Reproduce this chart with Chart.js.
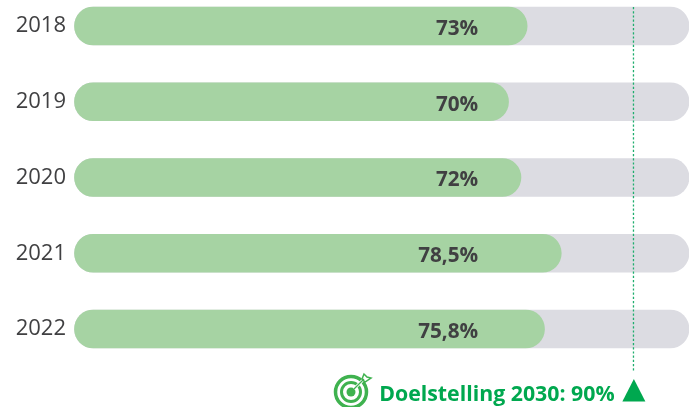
<!DOCTYPE html>
<html><head><meta charset="utf-8">
<style>html,body{margin:0;padding:0;background:#fff;overflow:hidden}canvas{display:block}</style>
<script src="https://cdn.jsdelivr.net/npm/chart.js@4"></script>
</head><body><canvas id="c" width="689" height="407"></canvas>
<script>
const years = ['2018','2019','2020','2021','2022'];
const values = [73,70,72,78.5,75.8];
const valueLabels = ['73%','70%','72%','78,5%','75,8%'];
const track = [99.1,99.1,99.1,99.1,99.1];
const goal = 90;
const goalLabel = 'Doelstelling 2030: 90%';
const labelAnchor = 65.1;
const GREEN='#00a84f', DARK='#404042';

const overlay = {
  id:'overlay',
  afterDatasetsDraw(chart){
    const {ctx,scales:{x,y}} = chart;
    ctx.save();
    // value labels
    ctx.font='bold 20.7px "Open Sans"';
    ctx.fillStyle=DARK; ctx.textAlign='right'; ctx.textBaseline='middle';
    valueLabels.forEach((t,i)=>ctx.fillText(t,x.getPixelForValue(labelAnchor),y.getPixelForValue(i)+3));
    // goal line
    const gx=x.getPixelForValue(goal);
    ctx.strokeStyle='#1fae6e'; ctx.lineWidth=1.3; ctx.setLineDash([2.2,2]);
    ctx.beginPath(); ctx.moveTo(gx+0.9,7); ctx.lineTo(gx+0.9,372); ctx.stroke(); ctx.setLineDash([]);
    // triangle
    ctx.fillStyle=GREEN; ctx.beginPath();
    ctx.moveTo(gx+1.3,379); ctx.lineTo(gx+12.8,401.5); ctx.lineTo(gx-10.2,401.5); ctx.closePath(); ctx.fill();
    // goal text
    ctx.font='bold 21.3px "Open Sans"'; ctx.textAlign='right'; ctx.textBaseline='alphabetic';
    ctx.fillText(goalLabel,gx-18,401);
    // target icon
    const cx=351,cy=392;
    ctx.strokeStyle='#3fb24f'; ctx.lineWidth=3.5;
    ctx.beginPath(); ctx.arc(cx,cy,15.5,0,Math.PI*2); ctx.stroke();
    ctx.lineWidth=3;
    ctx.beginPath(); ctx.arc(cx,cy,9.5,0,Math.PI*2); ctx.stroke();
    ctx.fillStyle='#3fb24f';
    ctx.beginPath(); ctx.arc(cx,cy,4.5,0,Math.PI*2); ctx.fill();
    ctx.strokeStyle='#fff'; ctx.lineWidth=3; ctx.beginPath(); ctx.moveTo(cx+3,cy-3); ctx.lineTo(cx+15,cy-15); ctx.stroke();
    ctx.strokeStyle='#3fb24f'; ctx.lineWidth=1.3; ctx.beginPath(); ctx.moveTo(cx,cy); ctx.lineTo(cx+13,cy-13); ctx.stroke();
    ctx.lineWidth=1.5; ctx.beginPath();
    ctx.moveTo(cx+11,cy-13); ctx.lineTo(cx+13,cy-18); ctx.lineTo(cx+16,cy-15); ctx.lineTo(cx+20,cy-14); ctx.lineTo(cx+14,cy-10); ctx.closePath(); ctx.stroke();
    ctx.restore();
  }
};

new Chart(document.getElementById('c'),{
  type:'bar',
  data:{labels:years,datasets:[
    {data:values,backgroundColor:'#a6d3a3',order:1,grouped:false,barThickness:38,borderRadius:19,borderSkipped:false,clip:false},
    {data:track,backgroundColor:'#dcdce2',order:2,grouped:false,barThickness:38,borderRadius:19,borderSkipped:false,clip:false}
  ]},
  options:{
    indexAxis:'y',responsive:false,animation:false,
    layout:{padding:{top:26,bottom:78,left:0,right:0}},
    plugins:{legend:{display:false},tooltip:{enabled:false}},
    scales:{
      x:{display:false,min:0,max:99.1},
      y:{offset:false,grid:{display:false},border:{display:false},
        afterFit(s){s.width=74.5;},
        ticks:{color:DARK,font:{family:'"Open Sans"',size:22},padding:0.5,autoSkip:false}}
    }
  },
  plugins:[overlay]
});
</script></body></html>
